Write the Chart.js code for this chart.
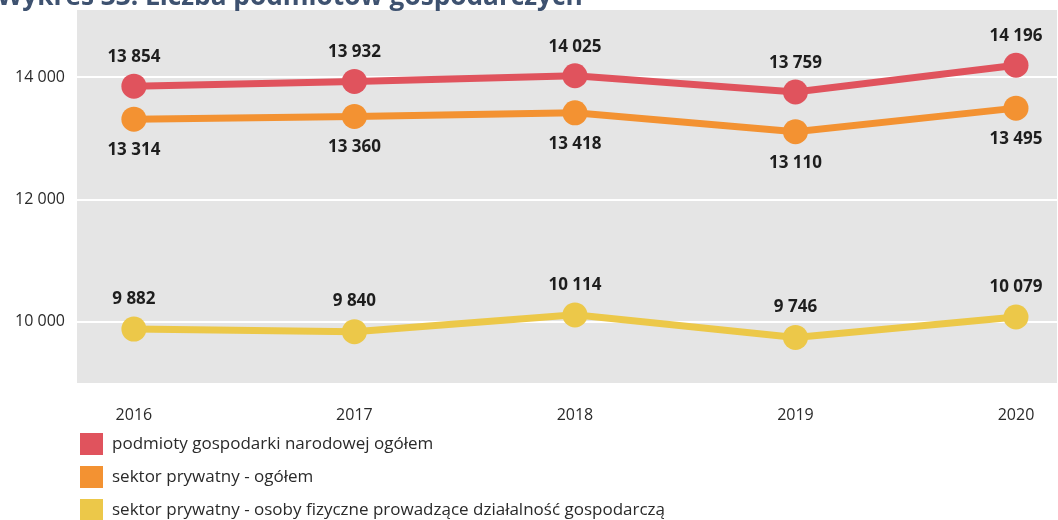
<!DOCTYPE html>
<html lang="pl">
<head>
<meta charset="utf-8">
<title>Liczba podmiotów gospodarczych</title>
<script src="https://cdn.jsdelivr.net/npm/chart.js@4"></script>
<style>
  html, body { margin: 0; padding: 0; background: #ffffff; overflow: hidden; }
  #wrap { width: 1058px; height: 520px; position: relative; }
  #chart { display: block; }
</style>
</head>
<body>
<div id="wrap"><canvas id="chart" width="1058" height="520"></canvas></div>
<script>
// Data
const years = [2016, 2017, 2018, 2019, 2020];
const podmiotyOgolem = [13854, 13932, 14025, 13759, 14196];
const sektorPrywatny = [13314, 13360, 13418, 13110, 13495];
const osobyFizyczne = [9882, 9840, 10114, 9746, 10079];
const yTicks = [10000, 12000, 14000];
const seriesNames = [
    'podmioty gospodarki narodowej ogółem',
    'sektor prywatny - ogółem',
    'sektor prywatny - osoby fizyczne prowadzące działalność gospodarczą'
];
const titleText = 'Wykres 33. Liczba podmiotów gospodarczych';

const colors = ['#e0535d', '#f39232', '#ecc849'];
const FONT = "'Open Sans', 'DejaVu Sans', sans-serif";

// "13 854" style formatting
const fmt = (v) => String(v).replace(/\B(?=(\d{3})+(?!\d))/g, ' ');

const toPoints = (arr) => arr.map((v, i) => ({ x: years[i], y: v }));

// Value labels: above the marker, or below for the middle series
const labelOffsets = [-29, 31, -30];

// keep the axes from reserving extra room for their edge labels
const noEdgePadding = (scale) => {
    scale.paddingTop = 0;
    scale.paddingBottom = 0;
    scale.paddingLeft = 0;
    scale.paddingRight = 0;
};

const plotBackground = {
    id: 'plotBackground',
    beforeDraw(chart) {
        const { ctx, chartArea: a } = chart;
        ctx.save();
        ctx.fillStyle = '#e5e5e5';
        ctx.fillRect(a.left, a.top, a.right - a.left, a.bottom - a.top);
        ctx.restore();
    }
};

const valueLabels = {
    id: 'valueLabels',
    afterDatasetsDraw(chart) {
        const { ctx } = chart;
        ctx.save();
        ctx.font = `bold 17px ${FONT}`;
        ctx.fillStyle = '#1e1e1e';
        ctx.textAlign = 'center';
        ctx.textBaseline = 'middle';
        chart.data.datasets.forEach((ds, di) => {
            const meta = chart.getDatasetMeta(di);
            meta.data.forEach((pt, i) => {
                ctx.fillText(fmt(ds.data[i].y), pt.x, pt.y + labelOffsets[di]);
            });
        });
        ctx.restore();
    }
};

const titleAndLegend = {
    id: 'titleAndLegend',
    afterDraw(chart) {
        const { ctx } = chart;
        ctx.save();
        // title, partly above the top edge
        let size = 22;
        ctx.font = `bold ${size}px ${FONT}`;
        size = size * 586 / ctx.measureText(titleText).width;
        ctx.font = `bold ${size}px ${FONT}`;
        ctx.fillStyle = '#3e5270';
        ctx.textAlign = 'left';
        ctx.textBaseline = 'alphabetic';
        ctx.fillText(titleText, -3, 5);

        // legend
        ctx.font = `17px ${FONT}`;
        ctx.textBaseline = 'middle';
        chart.data.datasets.forEach((ds, i) => {
            const cy = 444 + i * 33;
            ctx.fillStyle = ds.borderColor;
            ctx.fillRect(80, cy - 11, 23, 22);
            ctx.fillStyle = '#2a2a2a';
            ctx.fillText(ds.label, 112, cy);
        });
        ctx.restore();
    }
};

const makeDataset = (label, values, color) => ({
    label,
    data: toPoints(values),
    borderColor: color,
    backgroundColor: color,
    borderWidth: 7,
    pointRadius: 12.5,
    pointHoverRadius: 12.5,
    pointBorderWidth: 0,
    tension: 0
});

new Chart(document.getElementById('chart'), {
    type: 'line',
    data: {
        datasets: [
            makeDataset(seriesNames[0], podmiotyOgolem, colors[0]),
            makeDataset(seriesNames[1], sektorPrywatny, colors[1]),
            makeDataset(seriesNames[2], osobyFizyczne, colors[2])
        ]
    },
    options: {
        responsive: false,
        animation: false,
        events: [],
        layout: {
            autoPadding: false,
            padding: { top: 10, right: 1, left: 0, bottom: 0 }
        },
        plugins: {
            legend: { display: false },
            tooltip: { enabled: false },
            title: { display: false }
        },
        scales: {
            x: {
                type: 'linear',
                min: 2015.742,
                max: 2020.186,
                grid: { display: false },
                border: { display: false },
                afterBuildTicks: (scale) => {
                    scale.ticks = years.map((y) => ({ value: y }));
                },
                ticks: {
                    padding: 15,
                    color: '#2a2a2a',
                    font: { family: FONT, size: 16 },
                    callback: (v) => String(v),
                    maxRotation: 0,
                    autoSkip: false
                },
                afterFit: (scale) => {
                    scale.height = 137;
                    noEdgePadding(scale);
                }
            },
            y: {
                min: 9000,
                max: 15100,
                grid: { color: '#ffffff', lineWidth: 2, drawTicks: false },
                border: { display: false },
                afterBuildTicks: (scale) => {
                    scale.ticks = yTicks.map((v) => ({ value: v }));
                },
                ticks: {
                    padding: 12,
                    color: '#2a2a2a',
                    font: { family: FONT, size: 16 },
                    callback: (v) => fmt(v)
                },
                afterFit: (scale) => {
                    scale.width = 77;
                    noEdgePadding(scale);
                }
            }
        }
    },
    plugins: [plotBackground, valueLabels, titleAndLegend]
});
</script>
</body>
</html>
